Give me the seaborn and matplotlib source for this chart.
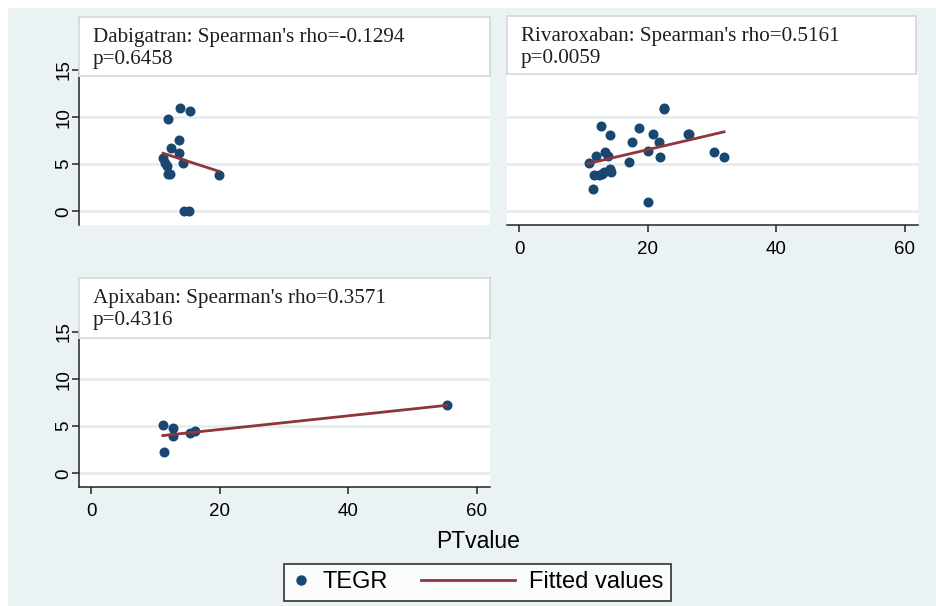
import numpy as np
import pandas as pd
import matplotlib
matplotlib.use("Agg")
import matplotlib.pyplot as plt
import seaborn as sns
from matplotlib.lines import Line2D
from matplotlib.patches import Rectangle
from matplotlib.legend_handler import HandlerLine2D

# Data (PT value vs TEGR)
dabi_pt = [13.9, 15.4, 11.9, 13.6, 12.5, 13.7, 11.2, 11.5, 11.8, 14.35, 12.2, 12.0, 19.9, 14.4, 15.2]
dabi_tegr = [10.95, 10.7, 9.8, 7.6, 6.7, 6.2, 5.7, 5.1, 4.8, 5.1, 4.0, 4.0, 3.85, 0.05, 0.05]
dabi_title = "Dabigatran: Spearman's rho=-0.1294\np=0.6458"

riva_pt = [22.55, 12.8, 14.2, 18.6, 20.8, 17.6, 21.7, 13.3, 11.9, 13.8, 20.0, 26.4, 21.9, 10.8,
           17.1, 12.4, 13.2, 14.1, 14.3, 12.9, 11.7, 22.6, 11.5, 20.0, 26.3, 30.4, 31.9]
riva_tegr = [10.95, 9.1, 8.1, 8.8, 8.2, 7.4, 7.4, 6.3, 5.85, 5.85, 6.4, 8.25, 5.8, 5.15,
             5.25, 3.9, 4.2, 4.45, 4.2, 3.95, 3.9, 10.9, 2.4, 0.95, 8.2, 6.3, 5.8]
riva_title = "Rivaroxaban: Spearman's rho=0.5161\np=0.0059"

apix_pt = [11.15, 12.8, 12.7, 11.35, 15.4, 16.2, 55.4]
apix_tegr = [5.14, 4.86, 3.96, 2.28, 4.25, 4.5, 7.2]
apix_title = "Apixaban: Spearman's rho=0.3571\np=0.4316"

x_ticks = [0, 20, 40, 60]
y_ticks = [0, 5, 10, 15]

navy = "#1a476f"
maroon = "#90353b"
bg = "#eaf2f3"
grid_col = "#e3ecef"

W, H = 937, 606


def fx(px):
    return px / W


def fy(py):
    return 1 - py / H


def rect(l, t, r, b):
    return [fx(l), fy(b), (r - l) / W, (b - t) / H]


fig = plt.figure(figsize=(9.37, 6.06), dpi=100, facecolor="white")
fig.patches.append(Rectangle((fx(8), 0), 1, fy(8), transform=fig.transFigure,
                             facecolor=bg, edgecolor="none", zorder=-10))

panels = [
    (dabi_pt, dabi_tegr, dabi_title, (79, 70, 490, 225), (79, 17, 490, 76), True, False),
    (riva_pt, riva_tegr, riva_title, (507, 70, 918, 225), (507, 16, 916, 74), False, True),
    (apix_pt, apix_tegr, apix_title, (79, 332, 490, 487), (79, 278, 490, 338), True, True),
]

for pt, tegr, title, box, hbox, show_y, show_x in panels:
    ax = fig.add_axes(rect(*box))
    df = pd.DataFrame({"PTvalue": pt, "TEGR": tegr})
    sns.regplot(data=df, x="PTvalue", y="TEGR", ax=ax, ci=None, truncate=True,
                scatter_kws=dict(s=52, color=navy, linewidths=0, alpha=1, zorder=3),
                line_kws=dict(color=maroon, lw=2, zorder=4))
    ax.set_xlim(-1.9, 62.1)
    ax.set_ylim(-1.45, 15)
    ax.set_xlabel("")
    ax.set_ylabel("")
    ax.set_facecolor("white")
    ax.set_yticks(y_ticks)
    ax.set_xticks(x_ticks)
    ax.yaxis.grid(True, color=grid_col, lw=1.8)
    ax.xaxis.grid(False)
    ax.set_axisbelow(True)
    for s in ["top", "right"]:
        ax.spines[s].set_visible(False)
    ax.spines["left"].set_visible(show_y)
    ax.spines["bottom"].set_visible(show_x)
    for s in ["left", "bottom"]:
        ax.spines[s].set_color("#222222")
        ax.spines[s].set_linewidth(1.1)
    ax.tick_params(axis="y", left=show_y, labelleft=show_y, direction="out", length=4.8,
                   width=1.1, color="#222222", pad=0, labelsize=13.5, labelrotation=90)
    ax.tick_params(axis="x", bottom=show_x, labelbottom=show_x, direction="out", length=4.8,
                   width=1.1, color="#222222", pad=7, labelsize=13.5)
    for lab in ax.get_yticklabels():
        lab.set_va("center")
        lab.set_family("Liberation Sans")
    for lab in ax.get_xticklabels():
        lab.set_family("Liberation Sans")

    hax = fig.add_axes(rect(*hbox), zorder=5)
    hax.set_xticks([])
    hax.set_yticks([])
    hax.set_facecolor("white")
    for s in hax.spines.values():
        s.set_color("#d2d8da")
        s.set_linewidth(1.2)
    fig.text(fx(hbox[0] + 14), fy(hbox[1] + 11), title, ha="left", va="top",
             family="Liberation Serif", fontsize=15.2, color="#1e1e1e",
             linespacing=1.18, zorder=6)

fig.text(fx(478), fy(541), "PTvalue", ha="center", va="center",
         family="Liberation Sans", fontsize=16.5, color="black")


class LongLine(HandlerLine2D):
    def create_artists(self, legend, orig_handle, xdescent, ydescent, width, height,
                       fontsize, trans):
        return super().create_artists(legend, orig_handle, xdescent + 4.1 * width, ydescent,
                                      5.0 * width, height, fontsize, trans)


dot = Line2D([], [], marker="o", ls="", color=navy, markersize=6.5)
fit = Line2D([], [], color=maroon, lw=2)
leg = fig.legend([dot, fit], ["TEGR", "Fitted values"], loc="center",
                 bbox_to_anchor=(fx(477.5), fy(582.5)), ncol=2, frameon=True,
                 fancybox=False, handlelength=0.8, handletextpad=0.5,
                 columnspacing=4.7, borderpad=0.3, borderaxespad=0,
                 handler_map={fit: LongLine()},
                 prop={"family": "Liberation Sans", "size": 17})
leg.get_frame().set_edgecolor("black")
leg.get_frame().set_linewidth(1.2)
leg.get_frame().set_facecolor("white")

fig.savefig("out.png", dpi=100, facecolor=fig.get_facecolor())
